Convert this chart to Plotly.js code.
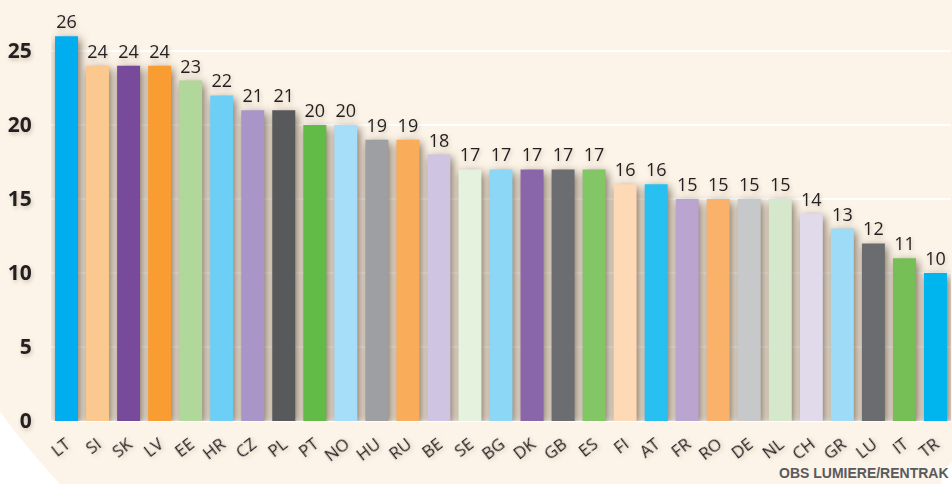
<!DOCTYPE html>
<html>
<head>
<meta charset="utf-8">
<script src="https://cdn.plot.ly/plotly-3.0.1.min.js"></script>
<style>
  html, body { margin: 0; padding: 0; background: #fcf4e8; }
  #chart { width: 952px; height: 484px; }
  .barlayer .point path { filter: drop-shadow(2px 3px 5px rgba(90, 70, 50, 0.8)); }
  .ytick text, .xtick text, .barlayer .bartext { filter: drop-shadow(1px 2px 2px rgba(120, 100, 80, 0.35)); }
</style>
</head>
<body>
<div id="chart"></div>
<script>
const countries = ["LT","SI","SK","LV","EE","HR","CZ","PL","PT","NO","HU","RU","BE","SE","BG","DK","GB","ES","FI","AT","FR","RO","DE","NL","CH","GR","LU","IT","TR"];
const values = [26,24,24,24,23,22,21,21,20,20,19,19,18,17,17,17,17,17,16,16,15,15,15,15,14,13,12,11,10];
const barColors = ["#00aeef","#fbc98f","#774a9b","#f99d33","#afd89a","#6dcff6","#aa95c8","#58595b","#62bb47","#a6defa","#9d9fa2","#f9ad5b","#cfc4e2","#e5f2de","#8dd7f6","#8966a9","#6c6d70","#83c665","#fed9b6","#27c0f0","#b9a5d0","#fab26b","#c7c8ca","#d6e8cb","#e1daeb","#9edbf6","#6b6c6f","#75bf56","#00b5ed"];
const yTicks = [0,5,10,15,20,25];
const source = "OBS LUMIERE/RENTRAK";

const trace = {
  type: "bar",
  x: countries,
  y: values,
  marker: { color: barColors, line: { width: 0 } },
  text: values.map(String),
  textposition: "outside",
  cliponaxis: false,
  textfont: { family: "Open Sans, Lato, sans-serif", size: 18, color: "#231f20" },
  hoverinfo: "none"
};

const layout = {
  width: 952, height: 484,
  margin: { l: 51, r: 1, t: 14, b: 63 },
  paper_bgcolor: "#fcf4e8",
  plot_bgcolor: "#fcf4e8",
  bargap: 0.26,
  showlegend: false,
  xaxis: {
    type: "category",
    tickangle: -38,
    tickfont: { family: "Open Sans, Lato, sans-serif", size: 17, color: "#231f20" },
    ticks: "outside", ticklen: 6, tickcolor: "rgba(0,0,0,0)",
    showgrid: false, zeroline: false, showline: false
  },
  yaxis: {
    range: [0, 27.5],
    tickvals: yTicks,
    ticktext: yTicks.map(String),
    tickfont: { family: "Open Sans, DejaVu Sans, sans-serif", size: 21, color: "#231f20", weight: "bold" },
    ticks: "outside", ticklen: 14, tickcolor: "rgba(0,0,0,0)",
    showgrid: true, gridcolor: "#ffffff", gridwidth: 2,
    zeroline: true, zerolinecolor: "#ffffff", zerolinewidth: 2,
    showline: false
  },
  shapes: [
    { type: "path", xref: "paper", yref: "paper", layer: "below",
      path: "M -0.06,0.034 Q -0.03,-0.06 0.01,-0.155 L -0.06,-0.155 Z",
      fillcolor: "#ffffff", line: { width: 0 } },
    { type: "path", xref: "paper", yref: "paper", layer: "below",
      path: "M 1.002,-0.1 Q 0.985,-0.13 0.99,-0.155 L 1.002,-0.155 Z",
      fillcolor: "#ffffff", line: { width: 0 } }
  ],
  annotations: [
    { text: source, xref: "paper", yref: "paper", x: 1.0, y: -0.152,
      xanchor: "right", yanchor: "bottom", showarrow: false,
      font: { family: "Liberation Sans Narrow, Liberation Sans, Arial, sans-serif", size: 14, color: "#595a5c", weight: "bold" } }
  ]
};

Plotly.newPlot("chart", [trace], layout, { displayModeBar: false, staticPlot: true });
</script>
</body>
</html>
